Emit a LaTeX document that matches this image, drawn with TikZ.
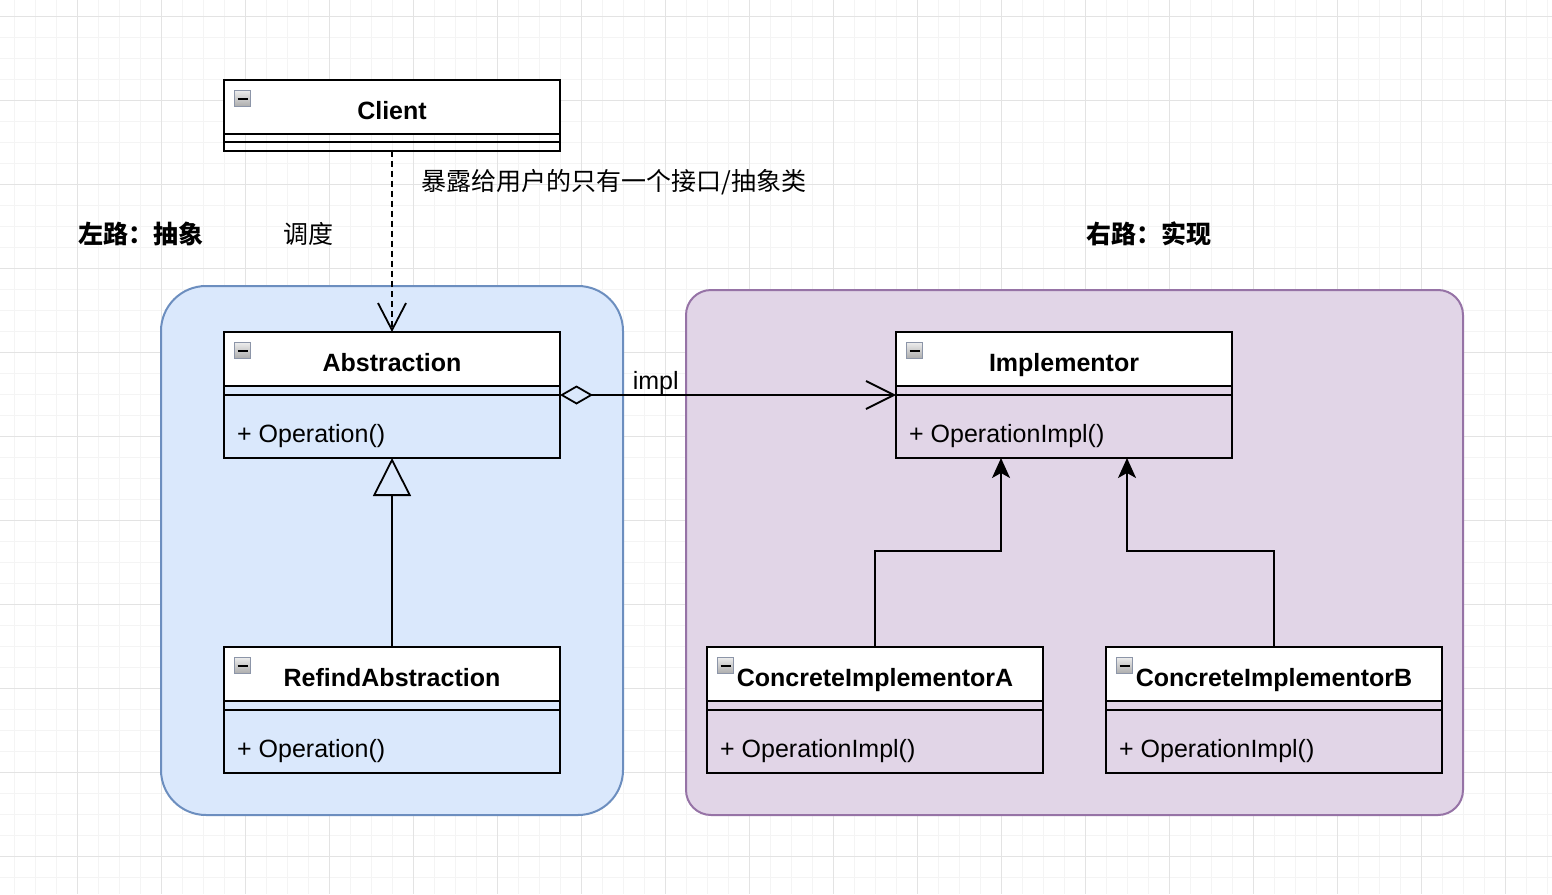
\documentclass[tikz,border=0pt]{standalone}
\usepackage{fontspec}
\setmainfont{Liberation Sans}
\newfontfamily\cjk{Noto Sans CJK SC}
\usepackage{tikz}
\usetikzlibrary{arrows.meta}
\usetikzlibrary{positioning}

\definecolor{leftfill}{HTML}{DAE8FC}
\definecolor{leftline}{HTML}{6C8EBF}
\definecolor{rightfill}{HTML}{E1D5E7}
\definecolor{rightline}{HTML}{9673A6}
\definecolor{gridminor}{HTML}{F4F4F4}
\definecolor{gridmajor}{HTML}{E3E3E3}
\definecolor{iconline}{HTML}{8C95A8}

\tikzset{
  roadbox/.style={draw,line width=2pt,inner sep=0pt},
  classhead/.style={draw,fill=white,line width=2pt,outer sep=0pt,minimum width=336pt,minimum height=54pt,inner sep=0pt,
    text height=26pt,text depth=2pt,font=\bfseries},
  classband/.style={draw,line width=2pt,outer sep=0pt,minimum width=336pt,minimum height=9pt,inner sep=0pt},
  classops/.style={draw,line width=2pt,outer sep=0pt,minimum width=336pt,minimum height=63pt,inner sep=0pt},
  optext/.style={anchor=west,inner sep=0pt,xshift=13pt,yshift=-9.5pt},
  collapse/.style={draw=iconline,line width=1.5pt,minimum size=16pt,inner sep=0pt,text=black,
    top color=gray!15,bottom color=gray!65,xshift=18.5pt,yshift=-18.5pt},
  depend/.style={line width=1.8pt,dash pattern=on 6pt off 4pt,-{Straight Barb[length=27pt,width=28pt]}},
  assoc/.style={line width=1.8pt,{Diamond[open,length=33pt,width=19pt]}-{Straight Barb[length=28pt,width=28pt]}},
  inherit/.style={line width=1.8pt,-{Triangle[open,length=38pt,width=38pt]}},
  realize/.style={line width=1.8pt,-{Stealth[length=20pt,width=18pt,inset=5pt]}}
}

\begin{document}
\fontsize{25pt}{30pt}\selectfont
\begin{tikzpicture}[x=1pt,y=-1pt]
  \useasboundingbox (0,0) rectangle (1552,894);
  \fill [white] (0,0) rectangle (1552,894);

  % grid
  \foreach \gx in {14,35,...,1552}
    \draw [gridminor,line width=1pt] (\gx,0) -- (\gx,894);
  \foreach \gy in {16,37,...,894}
    \draw [gridminor,line width=1pt] (0,\gy) -- (1552,\gy);
  \foreach \gx in {77,161,...,1552}
    \draw [gridmajor,line width=1pt] (\gx,0) -- (\gx,894);
  \foreach \gy in {16,100,...,894}
    \draw [gridmajor,line width=1pt] (0,\gy) -- (1552,\gy);

  % the two roads
  \node [roadbox,fill=leftfill,draw=leftline,rounded corners=45pt,minimum width=462pt,minimum height=529pt] (leftroad) at (392,550.5) {};
  \node [roadbox,fill=rightfill,draw=rightline,rounded corners=25pt,minimum width=777pt,minimum height=525pt] (rightroad) at (1074.5,552.5) {};

  \node [font=\cjk\bfseries] (leftname) at (141,234) {左路：抽象};
  \node [font=\cjk\bfseries] (rightname) at (1149,234) {右路：实现};

  % client
  \node [classhead] (client) at (392,107) {Client};
  \node [classband,minimum height=8pt,below=0pt of client] (clientattr) {};
  \node [classband,below=0pt of clientattr] (clientops) {};
  \node [collapse] at (client.north west) {\rule{10pt}{2pt}};

  % left road
  \node [classhead] (abs) at (392,359) {Abstraction};
  \node [classband,below=0pt of abs] (absattr) {};
  \node [classops,below=0pt of absattr] (absops) {};
  \node [optext] at (absops.west) {+ Operation()};
  \node [collapse] at (abs.north west) {\rule{10pt}{2pt}};

  \node [classhead] (refind) at (392,674) {RefindAbstraction};
  \node [classband,below=0pt of refind] (refindattr) {};
  \node [classops,below=0pt of refindattr] (refindops) {};
  \node [optext] at (refindops.west) {+ Operation()};
  \node [collapse] at (refind.north west) {\rule{10pt}{2pt}};

  % right road
  \node [classhead] (impl) at (1064,359) {Implementor};
  \node [classband,below=0pt of impl] (implattr) {};
  \node [classops,below=0pt of implattr] (implops) {};
  \node [optext] at (implops.west) {+ OperationImpl()};
  \node [collapse] at (impl.north west) {\rule{10pt}{2pt}};

  \node [classhead] (concA) at (875,674) {ConcreteImplementorA};
  \node [classband,below=0pt of concA] (concAattr) {};
  \node [classops,below=0pt of concAattr] (concAops) {};
  \node [optext] at (concAops.west) {+ OperationImpl()};
  \node [collapse] at (concA.north west) {\rule{10pt}{2pt}};

  \node [classhead] (concB) at (1274,674) {ConcreteImplementorB};
  \node [classband,below=0pt of concB] (concBattr) {};
  \node [classops,below=0pt of concBattr] (concBops) {};
  \node [optext] at (concBops.west) {+ OperationImpl()};
  \node [collapse] at (concB.north west) {\rule{10pt}{2pt}};

  % connectors
  \path [draw,depend] (clientops.south) -- (abs.north)
    node [pos=0.171,anchor=west,xshift=20pt,font=\cjk] {暴露给用户的只有一个接口/抽象类}
    node [pos=0.459,anchor=east,xshift=-49pt,font=\cjk] {调度};

  \path [draw,assoc] (absops.north east) -- (implops.north west)
    node [pos=0.285,anchor=south,yshift=-9pt] {impl};

  \path [draw,inherit] (refind.north) -- (absops.south);

  \path [draw,realize] (concA.north) -- ++(0,-96) -| ([xshift=-63pt]implops.south);
  \path [draw,realize] (concB.north) -- ++(0,-96) -| ([xshift=63pt]implops.south);

\end{tikzpicture}
\end{document}
